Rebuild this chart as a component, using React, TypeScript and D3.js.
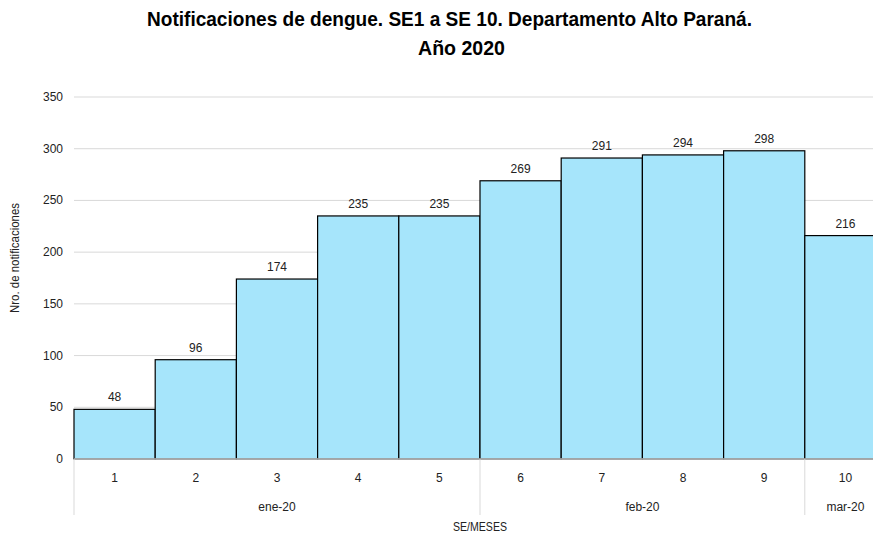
import React from "react";
import * as d3 from "d3";

const weeks = ["1", "2", "3", "4", "5", "6", "7", "8", "9", "10"];
const values = [48, 96, 174, 235, 235, 269, 291, 294, 298, 216];
const months = ["ene-20", "feb-20", "mar-20"];
const monthWeeks = [5, 4, 1];
const yTicks = [0, 50, 100, 150, 200, 250, 300, 350];

const W = 873;
const H = 536;
const left = 74;
const bandW = 81.2;
const top = 97;
const bottom = 459;
const font = "'Liberation Sans', Arial, sans-serif";

export default function App() {
  const x = d3.scaleBand<string>().domain(weeks).range([left, left + bandW * weeks.length]).padding(0);
  const y = d3.scaleLinear().domain([0, 350]).range([bottom, top]);

  let acc = 0;
  const monthSpans = months.map((m, i) => {
    const start = acc;
    acc += monthWeeks[i];
    const x0 = x(weeks[start])!;
    const x1 = x(weeks[acc - 1])! + x.bandwidth();
    return { m, x0, x1 };
  });

  return (
    <svg width={W} height={H} style={{ position: "absolute", left: 0, top: 0, background: "#fff" }}>
      <text x={147} y={26} fontFamily={font} fontWeight="bold" fontSize={21} fill="#000" textLength={605} lengthAdjust="spacingAndGlyphs">
        Notificaciones de dengue. SE1 a SE 10. Departamento Alto Paraná.
      </text>
      <text x={418} y={55} fontFamily={font} fontWeight="bold" fontSize={21} fill="#000" textLength={87} lengthAdjust="spacingAndGlyphs">
        Año 2020
      </text>
      {yTicks.map((t) => (
        <g key={t}>
          {t > 0 && <line x1={left} x2={W} y1={y(t)} y2={y(t)} stroke="#d9d9d9" strokeWidth={1} />}
          <text x={63} y={y(t) + 4} textAnchor="end" fontFamily={font} fontSize={12} fill="#222">
            {t}
          </text>
        </g>
      ))}
      <text
        transform={`translate(19,258) rotate(-90)`}
        textAnchor="middle"
        fontFamily={font}
        fontSize={12}
        fill="#222"
        textLength={110}
        lengthAdjust="spacingAndGlyphs"
      >
        Nro. de notificaciones
      </text>
      {values.map((v, i) => (
        <g key={i}>
          <rect
            x={x(weeks[i])!}
            y={y(v)}
            width={x.bandwidth()}
            height={bottom - y(v)}
            fill="#A6E5FB"
            stroke="#000"
            strokeWidth={1.2}
          />
          <text x={x(weeks[i])! + x.bandwidth() / 2} y={y(v) - 8} textAnchor="middle" fontFamily={font} fontSize={12} fill="#222">
            {v}
          </text>
          <text x={x(weeks[i])! + x.bandwidth() / 2} y={482} textAnchor="middle" fontFamily={font} fontSize={12} fill="#222">
            {weeks[i]}
          </text>
        </g>
      ))}
      <line x1={left} x2={W} y1={bottom} y2={bottom} stroke="#bfbfbf" strokeWidth={1.5} />
      {monthSpans.map((s) => (
        <g key={s.m}>
          <line x1={s.x0} x2={s.x0} y1={bottom} y2={515} stroke="#d9d9d9" strokeWidth={1} />
          <text x={(s.x0 + s.x1) / 2} y={511} textAnchor="middle" fontFamily={font} fontSize={12} fill="#222">
            {s.m}
          </text>
        </g>
      ))}
      <text x={453} y={531} fontFamily={font} fontSize={12} fill="#222" textLength={54} lengthAdjust="spacingAndGlyphs">
        SE/MESES
      </text>
    </svg>
  );
}
